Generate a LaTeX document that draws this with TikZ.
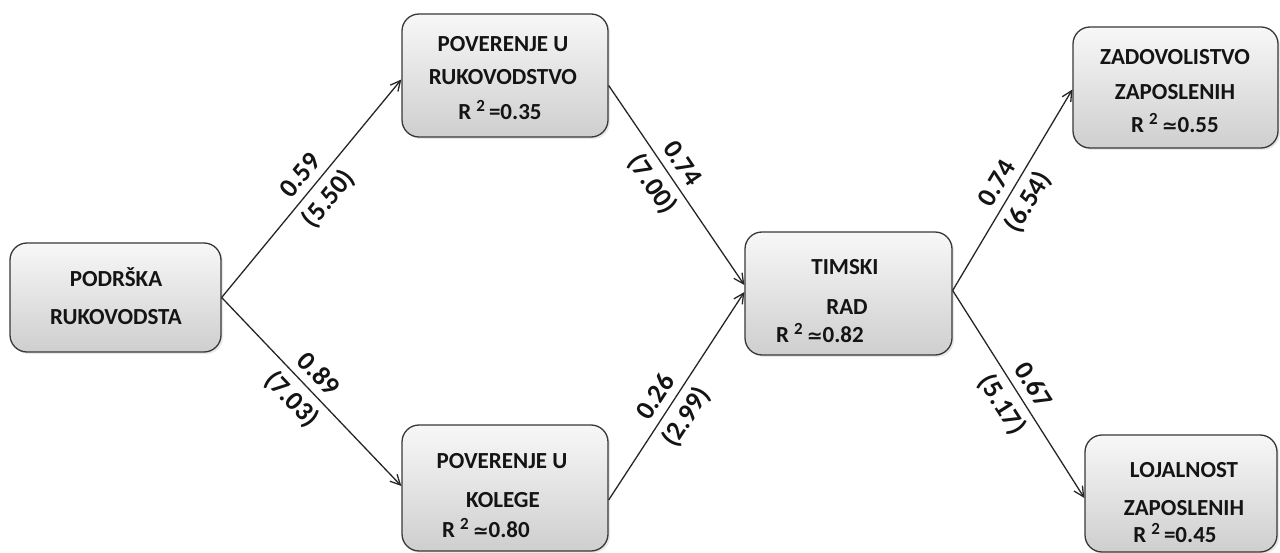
\documentclass[tikz,border=0pt]{standalone}
\usepackage{fontspec}
\setmainfont{Carlito}
\newfontfamily\djv{DejaVu Sans}
\usetikzlibrary{arrows.meta,shadows}
\newcommand{\rsq}[2]{R\hspace{5pt}\raisebox{8pt}{\fontsize{17}{17}\selectfont 2}\hspace{4pt}{#1}#2}
\newcommand{\apx}{{\djv\fontsize{19}{19}\selectfont ≃}}
\begin{document}
\begin{tikzpicture}[x=1pt,y=-1pt,
  box/.style={draw=black!78, line width=1.3pt, rounded corners=17pt,
    top color=black!3, bottom color=black!19,
    drop shadow={opacity=0.18,shadow xshift=2pt,shadow yshift=-2pt}},
  txt/.style={font=\fontsize{23}{23}\selectfont\bfseries, anchor=base, inner sep=0pt, text=black!92},
  arr/.style={line width=1.3pt, draw=black!85, -{Straight Barb[length=10pt,width=10pt]}},
  coef/.style={font=\fontsize{27}{27}\selectfont\bfseries, sloped, above=8pt, inner sep=0pt, text=black!92},
  tval/.style={font=\fontsize{27}{27}\selectfont\bfseries, sloped, below=7pt, inner sep=0pt, text=black!92}]
\useasboundingbox (0,0) rectangle (1280,553);
% boxes
\node[box, minimum width=211pt, minimum height=109pt] (A) at (115.5,297.5) {};
\node[box, minimum width=206pt, minimum height=123pt] (B) at (505,75.5) {};
\node[box, minimum width=207pt, minimum height=123pt] (C) at (848.5,293.5) {};
\node[box, minimum width=206pt, minimum height=126pt] (D) at (505,488) {};
\node[box, minimum width=205pt, minimum height=121pt] (E) at (1175.5,87.5) {};
\node[box, minimum width=192pt, minimum height=117pt] (F) at (1181,493.5) {};
% texts
\node[txt] (tA1) at (116,287) {PODRŠKA};
\node[txt] (tA2) at (116,325) {RUKOVODSTA};
\node[txt] (tB1) at (503,52) {POVERENJE U};
\node[txt] (tB2) at (503,85) {RUKOVODSTVO};
\node[txt] (tB3) at (500,120) {\rsq{=}{0.35}};
\node[txt] (tC1) at (845,275) {TIMSKI};
\node[txt] (tC2) at (847,315) {RAD};
\node[txt] (tC3) at (820,342) {\rsq{\apx}{0.82}};
\node[txt] (tD1) at (502,468) {POVERENJE U};
\node[txt] (tD2) at (503,507) {KOLEGE};
\node[txt] (tD3) at (486,537) {\rsq{\apx}{0.80}};
\node[txt] (tE1) at (1175,65) {ZADOVOLISTVO};
\node[txt] (tE2) at (1175,100) {ZAPOSLENIH};
\node[txt] (tE3) at (1175,133) {\rsq{\apx}{0.55}};
\node[txt] (tF1) at (1184,477) {LOJALNOST};
\node[txt] (tF2) at (1184,515) {ZAPOSLENIH};
\node[txt] (tF3) at (1175,542) {\rsq{=}{0.45}};
% arrows
\draw[arr] (A.east) -- node[coef,pos=.51] (cAB) {0.59} node[tval,pos=.51] (vAB) {(5.50)} ([yshift=-4pt]B.west);
\draw[arr] (A.east) -- node[coef,pos=.47] (cAD) {0.89} node[tval,pos=.47] (vAD) {(7.03)} ([yshift=2pt]D.west);
\draw[arr] ([yshift=-10pt]B.east) -- node[coef,pos=.44] (cBC) {0.74} node[tval,pos=.44] (vBC) {(7.00)} ([yshift=8.5pt]C.west);
\draw[arr] ([yshift=-12pt]D.east) -- node[coef,pos=.45] (cDC) {0.26} node[tval,pos=.45] (vDC) {(2.99)} ([yshift=1.5pt]C.west);
\draw[arr] ([yshift=3pt]C.east) -- node[coef,pos=.49] (cCE) {0.74} node[tval,pos=.49] (vCE) {(6.54)} ([yshift=-2pt]E.west);
\draw[arr] ([yshift=3pt]C.east) -- node[coef,pos=.5] (cCF) {0.67} node[tval,pos=.5] (vCF) {(5.17)} ([yshift=-4.5pt]F.west);
\end{tikzpicture}
\end{document}
